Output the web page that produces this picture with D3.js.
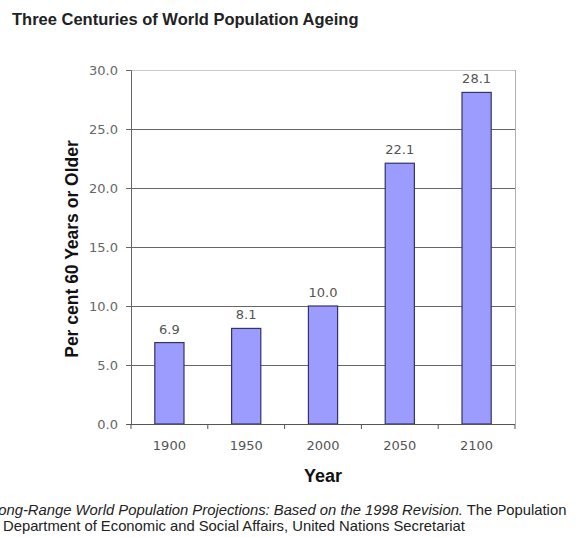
<!DOCTYPE html>
<html><head><meta charset="utf-8">
<script src="https://cdn.jsdelivr.net/npm/d3@7"></script>
<style>body{margin:0;background:#fff;}svg{display:block;font-family:Arial,"Liberation Sans",sans-serif;}</style>
</head><body>
<script>
const years = ["1900","1950","2000","2050","2100"];
const values = [6.9, 8.1, 10.0, 22.1, 28.1];
const yTicks = [0,5,10,15,20,25,30];

const W=579,H=537;
const svg=d3.select("body").append("svg").attr("width",W).attr("height",H);
const L=131,R=515,T=70,B=424;
const tickFont="'DejaVu Sans',Verdana,sans-serif";
const x=d3.scaleBand().domain(years).range([L,R]).paddingInner(0.62).paddingOuter(0.31);
const y=d3.scaleLinear().domain([0,30]).range([B,T]);

svg.append("text").attr("x",12).attr("y",25).attr("font-size",16.5).attr("font-weight","bold").attr("fill","#222")
  .text("Three Centuries of World Population Ageing");

// plot border (top/right light gray)
svg.append("line").attr("x1",L).attr("x2",R).attr("y1",T+0.5).attr("y2",T+0.5).attr("stroke","#c8c8c8");
svg.append("line").attr("x1",R+0.5).attr("x2",R+0.5).attr("y1",T).attr("y2",B).attr("stroke","#b0b0b0");

// gridlines
svg.append("g").selectAll("line").data(yTicks.filter(d=>d>0&&d<30)).join("line")
  .attr("x1",L).attr("x2",R).attr("y1",d=>Math.round(y(d))+0.5).attr("y2",d=>Math.round(y(d))+0.5)
  .attr("stroke","#666").attr("stroke-width",1.2);

// bars
svg.append("g").selectAll("rect").data(values).join("rect")
  .attr("x",(d,i)=>x(years[i])).attr("width",x.bandwidth())
  .attr("y",d=>y(d)).attr("height",d=>B-y(d))
  .attr("fill","#9c9cff").attr("stroke","#333366").attr("stroke-width",1.2);

// value labels
svg.append("g").selectAll("text").data(values).join("text")
  .attr("x",(d,i)=>x(years[i])+x.bandwidth()/2).attr("y",d=>y(d)-9)
  .attr("text-anchor","middle").attr("font-size",13).attr("font-family",tickFont).attr("fill","#555")
  .text(d=>d.toFixed(1));

// y axis
const ya=svg.append("g").attr("transform",`translate(${L},0)`)
  .call(d3.axisLeft(y).tickValues(yTicks).tickFormat(d3.format(".1f")).tickSize(5).tickPadding(8));
ya.select(".domain").attr("stroke","#666");
ya.selectAll(".tick line").attr("stroke","#666");
ya.selectAll("text").attr("font-size",13).attr("fill","#666").attr("font-family",tickFont);

// x axis
const xa=svg.append("g").attr("transform",`translate(0,${B})`)
  .call(d3.axisBottom(x).tickSize(0).tickPadding(17));
xa.select(".domain").remove();
xa.selectAll("text").attr("font-size",13).attr("fill","#555").attr("font-family",tickFont);
svg.append("line").attr("x1",L-4).attr("x2",R).attr("y1",B+0.5).attr("y2",B+0.5).attr("stroke","#555").attr("stroke-width",1.2);
svg.append("g").selectAll("line").data(d3.range(years.length+1)).join("line")
  .attr("x1",i=>L+i*(R-L)/years.length).attr("x2",i=>L+i*(R-L)/years.length)
  .attr("y1",B).attr("y2",B+5).attr("stroke","#555");

// axis titles
svg.append("text").attr("transform",`translate(78,${(T+B)/2+2}) rotate(-90)`).attr("text-anchor","middle")
  .attr("font-size",17.5).attr("font-weight","bold").attr("fill","#111").text("Per cent 60 Years or Older");
svg.append("text").attr("x",323).attr("y",482).attr("text-anchor","middle")
  .attr("font-size",18).attr("font-weight","bold").attr("fill","#111").text("Year");

// source
const s1=svg.append("text").attr("x",-10).attr("y",515).attr("font-size",14.8).attr("fill","#222");
s1.append("tspan").attr("font-style","italic").text("Long-Range World Population Projections: Based on the 1998 Revision.");
s1.append("tspan").text(" The Population");
svg.append("text").attr("x",3).attr("y",531).attr("font-size",14.8).attr("fill","#222")
  .text("Department of Economic and Social Affairs, United Nations Secretariat");
</script>
</body></html>
